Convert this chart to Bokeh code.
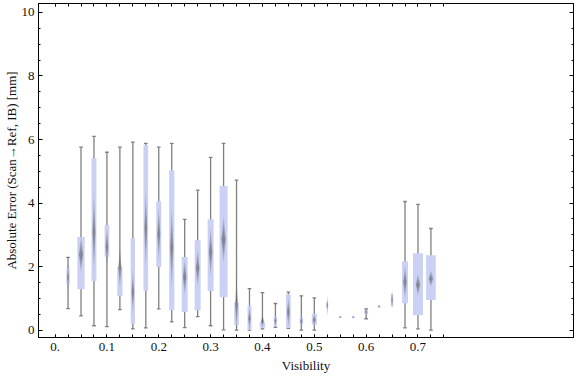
from bokeh.plotting import figure
from bokeh.models import LinearAxis, FixedTicker, Range1d
from bokeh.embed import file_html
from bokeh.resources import INLINE

# ---- data ----
visibility = [0.025, 0.05, 0.075, 0.1, 0.125, 0.15, 0.175, 0.2, 0.225, 0.25,
              0.275, 0.3, 0.325, 0.35, 0.375, 0.4, 0.425, 0.45, 0.475, 0.5,
              0.525, 0.55, 0.575, 0.6, 0.625, 0.65, 0.675, 0.7, 0.725]
whisker_lo = [0.68, 0.45, 0.14, 0.11, 0.65, 0.04, 0.07, 0.67, 0.26, 0.08,
              0.43, 0.14, 0.01, 0.00, 0.00, 0.04, 0.09, 0.06, 0.00, 0.00,
              0.71, 0.38, 0.38, 0.36, 0.71, 0.75, 0.07, 0.04, 0.00]
q1 = [1.44, 1.29, 1.55, 2.31, 1.07, 0.20, 1.23, 1.99, 0.63, 0.57,
      0.63, 1.23, 1.04, 0.16, 0.01, 0.08, 0.12, 0.07, 0.17, 0.17,
      0.71, 0.38, 0.38, 0.50, 0.71, 0.75, 0.85, 0.47, 0.95]
q3 = [1.94, 2.93, 5.41, 3.31, 1.98, 2.89, 5.83, 4.06, 5.03, 2.30,
      2.83, 3.49, 4.54, 0.87, 0.78, 0.25, 0.44, 1.13, 0.41, 0.52,
      0.88, 0.44, 0.44, 0.62, 0.78, 1.13, 2.17, 2.42, 2.36]
whisker_hi = [2.29, 5.76, 6.10, 5.60, 5.76, 5.92, 5.88, 5.76, 5.88, 3.49,
              4.41, 5.44, 5.88, 4.72, 1.31, 1.18, 0.84, 1.20, 1.08, 1.02,
              0.88, 0.44, 0.44, 0.67, 0.78, 1.13, 4.05, 3.96, 3.20]
median = [1.66, 2.38, 3.08, 2.62, 1.97, 1.20, 3.20, 3.03, 2.60, 1.67,
          1.96, 2.46, 2.85, 0.80, 0.37, 0.28, 0.30, 0.57, 0.28, 0.32,
          0.77, 0.41, 0.41, 0.57, 0.75, 0.96, 1.52, 1.43, 1.62]
ci_half = [0.47, 0.58, 1.29, 0.63, 0.68, 0.70, 1.26, 0.87, 1.34, 0.58,
           0.60, 0.79, 0.76, 0.85, 0.37, 0.20, 0.20, 0.47, 0.20, 0.20,
           0.36, 0.05, 0.05, 0.10, 0.05, 0.34, 0.53, 0.35, 0.26]
box_width = [0.0064, 0.0140, 0.0096, 0.0090, 0.0102, 0.0083, 0.0090, 0.0096, 0.0102, 0.0115,
             0.0115, 0.0115, 0.0154, 0.0090, 0.0077, 0.0102, 0.0064, 0.0090, 0.0064, 0.0096,
             0.0038, 0.0052, 0.0052, 0.0077, 0.0052, 0.0044, 0.0115, 0.0192, 0.0186]

x_major = [0.0, 0.1, 0.2, 0.3, 0.4, 0.5, 0.6, 0.7]
x_labels = ["0.", "0.1", "0.2", "0.3", "0.4", "0.5", "0.6", "0.7"]
x_minor = [round(i * 0.025, 3) for i in range(31)]
y_major = [0, 2, 4, 6, 8, 10]
y_minor = [i * 0.5 for i in range(21)]

FONT = "Liberation Serif"
BOX = "#cad1f5"
WHISK = "#7f7f7f"

p = figure(width=576, height=377, output_backend="svg", toolbar_location=None,
           x_range=Range1d(-0.032, 1.0), y_range=Range1d(-0.23, 10.28),
           x_axis_label="Visibility", y_axis_label="Absolute Error (Scan\u2192Ref, IB) [mm]",
           min_border_left=37, min_border_right=3, min_border_top=3, min_border_bottom=40)
p.grid.visible = False
p.outline_line_color = "black"
p.outline_line_width = 1

# whiskers
wx, wlo, whi, cap_l, cap_r, cap_y = [], [], [], [], [], []
for x, lo, a, b, hi in zip(visibility, whisker_lo, q1, q3, whisker_hi):
    if hi > b + 1e-9 or lo < a - 1e-9:
        wx.append(x); wlo.append(lo); whi.append(hi)
        for yv in (lo, hi):
            cap_l.append(x - 0.0035); cap_r.append(x + 0.0035); cap_y.append(yv)
p.segment(x0=wx, y0=wlo, x1=wx, y1=whi, line_color=WHISK, line_width=1.3)
p.segment(x0=cap_l, y0=cap_y, x1=cap_r, y1=cap_y, line_color=WHISK, line_width=1.3)

# boxes
tops = [max(b, a + 0.04) for a, b in zip(q1, q3)]
p.vbar(x=visibility, width=box_width, bottom=q1, top=tops,
       fill_color=BOX, line_color=None)

# gradient diamonds (median confidence marker)
for k in [1.0, 0.8, 0.6, 0.42, 0.25]:
    xs, ys = [], []
    for x, c, h, bw in zip(visibility, median, ci_half, box_width):
        dw = min(0.65 * bw, 0.0092) * (0.55 + 0.45 * k) / 2
        hh = h * k
        xs.append([x - dw, x, x + dw, x])
        ys.append([c, c + hh, c, c - hh])
    p.patches(xs=xs, ys=ys, fill_color="#6a6a6a", fill_alpha=0.22, line_color=None)

def style_axis(ax, labels=True):
    ax.axis_line_color = "black"
    ax.axis_line_width = 1
    ax.major_tick_line_color = "black"
    ax.minor_tick_line_color = "black"
    ax.major_tick_out = 0
    ax.minor_tick_out = 0
    ax.major_label_text_font = FONT
    if labels:
        ax.major_label_text_font_size = "13px"
        ax.major_label_text_color = "#111111"
    else:
        ax.major_label_text_font_size = "1px"
        ax.major_label_text_color = None
        ax.major_label_standoff = 0
    ax.axis_label_text_font = FONT
    ax.axis_label_text_font_size = "13px"
    ax.axis_label_text_font_style = "normal"
    ax.axis_label_text_color = "#111111"

xa = p.xaxis[0]
xa.ticker = FixedTicker(ticks=x_major, minor_ticks=x_minor)
xa.major_label_overrides = {v: s for v, s in zip(x_major, x_labels)}
style_axis(xa)
xa.major_tick_in = 3
xa.minor_tick_in = 3
xa.major_label_standoff = 5
xa.axis_label_standoff = 4

ya = p.yaxis[0]
ya.ticker = FixedTicker(ticks=y_major, minor_ticks=y_minor)
style_axis(ya)
ya.major_tick_in = 4
ya.minor_tick_in = 2
ya.major_label_standoff = 4
ya.axis_label_standoff = 0

top = LinearAxis(ticker=FixedTicker(ticks=x_major, minor_ticks=x_minor))
style_axis(top, labels=False)
top.major_tick_in = 3
top.minor_tick_in = 3
p.add_layout(top, "above")

right = LinearAxis(ticker=FixedTicker(ticks=y_major, minor_ticks=y_minor))
style_axis(right, labels=False)
right.major_tick_in = 4
right.minor_tick_in = 2
p.add_layout(right, "right")

open("out.html", "w").write(file_html(p, INLINE))
